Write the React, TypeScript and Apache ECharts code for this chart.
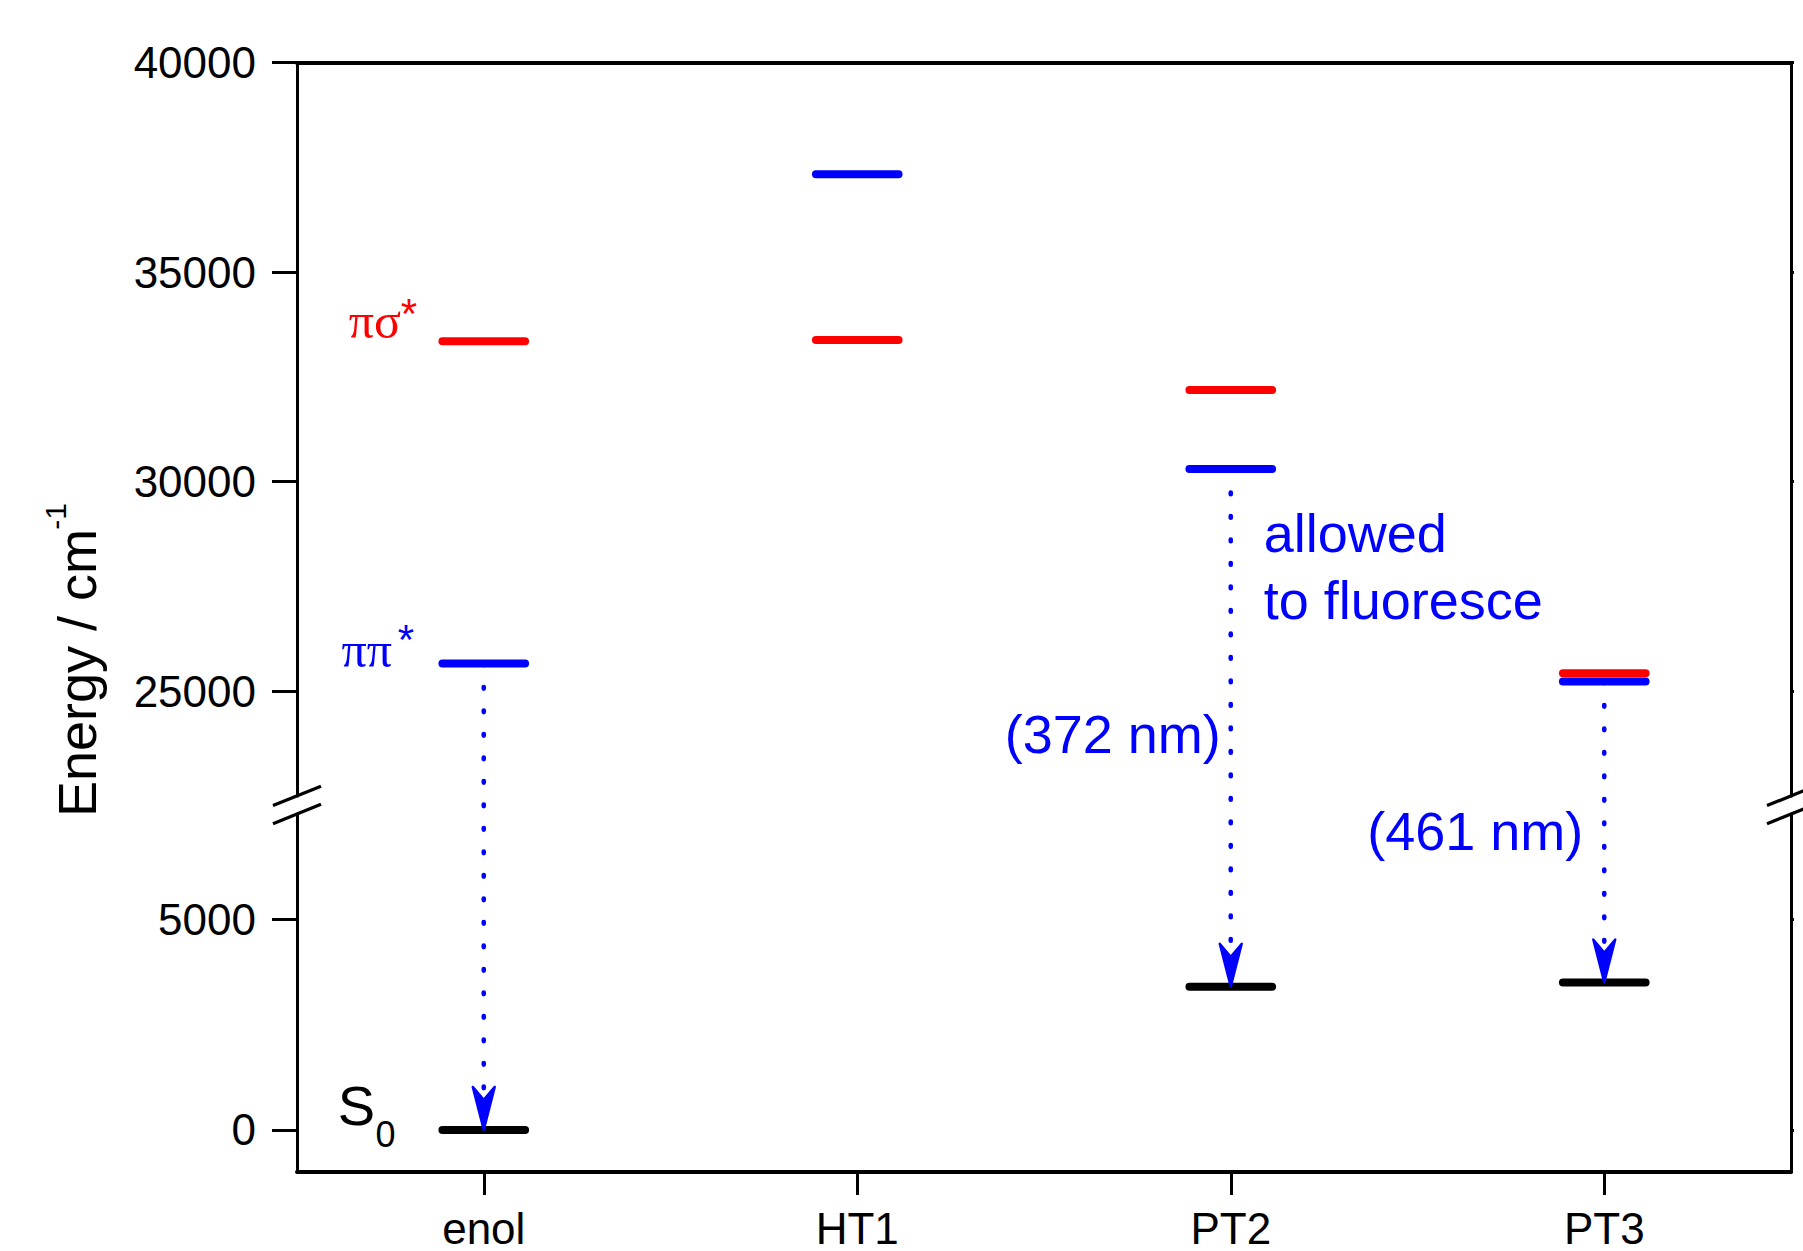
import React, { useEffect, useRef } from 'react';
import * as echarts from 'echarts';

// ---------- data ----------
const categories = ['enol', 'HT1', 'PT2', 'PT3'];
const piSigmaStar = [33350, 33380, 32190, 25430]; // red levels
const piPiStar = [25660, 37340, 30300, 25230]; // blue levels
const groundState: (number | null)[] = [0, null, 3400, 3500]; // black levels
const upperTicks = [25000, 30000, 35000, 40000];
const lowerTicks = [0, 5000];
const upperRange = [22500, 40000];
const lowerRange = [-1000, 7500];
const emissionFrom = [0, 2, 3]; // categories with a fluorescence arrow
const emissionLabels = ['', '(372 nm)', '(461 nm)'];

// ---------- layout ----------
const W = 1803;
const H = 1251;
const GL = 297;
const GR = 12;
const GT = 62.7;
const BRK_TOP = 795.9;
const BRK_BOT = 814;
const GB = 1172;
const SANS = '"Liberation Sans", Arial, Helvetica, sans-serif';
const SERIF = '"Liberation Serif", "Times New Roman", serif';
const RED = '#ff0000';
const BLUE = '#0000ff';
const BLACK = '#000000';
const HALF_FRAC = 0.1106;

const levelRenderer = (color: string) => (params: any, api: any) => {
  const c = api.coord([api.value(0), api.value(1)]);
  const bw = api.size([1, 0])[0];
  const half = bw * HALF_FRAC;
  return {
    type: 'line',
    shape: { x1: c[0] - half, y1: c[1], x2: c[0] + half, y2: c[1] },
    style: { stroke: color, lineWidth: 8, lineCap: 'round' },
  };
};

const numFmt = (v: number) => String(v);

function txt(x: number, y: number, text: string, font: string, fill: string, align: string, rotation = 0): any {
  return {
    type: 'text',
    x,
    y,
    rotation,
    silent: true,
    style: {
      text,
      font,
      fill,
      align,
      verticalAlign: 'middle',
      textAlign: align,
      textVerticalAlign: 'middle',
    },
  };
}

export default function App() {
  const ref = useRef<HTMLDivElement>(null);

  useEffect(() => {
    document.body.style.margin = '0';
    if (!ref.current) return;
    const chart = echarts.init(ref.current, undefined, { renderer: 'svg' });

    const yAxisCommon = (gridIndex: number, range: number[], interval: number, ticks: number[], left: boolean) => ({
      gridIndex,
      type: 'value',
      min: range[0],
      max: range[1],
      interval,
      position: left ? 'left' : 'right',
      axisLine: { show: true, onZero: false, lineStyle: { color: BLACK, width: 3 } },
      axisTick: {
        show: true,
        length: left ? 25 : 3,
        customValues: ticks,
        lineStyle: { color: BLACK, width: 3 },
      },
      axisLabel: left
        ? { show: true, customValues: ticks, formatter: numFmt, fontSize: 44, fontFamily: SANS, color: BLACK, margin: 41 }
        : { show: false },
      splitLine: { show: false },
    });

    const option: any = {
      animation: false,
      backgroundColor: '#ffffff',
      grid: [
        { left: GL, right: GR, top: GT, height: BRK_TOP - GT, containLabel: false },
        { left: GL, right: GR, top: BRK_BOT, height: GB - BRK_BOT, containLabel: false },
      ],
      xAxis: [
        {
          gridIndex: 0,
          type: 'category',
          data: categories,
          position: 'top',
          boundaryGap: true,
          axisLine: { onZero: false, lineStyle: { color: BLACK, width: 4 } },
          axisTick: { show: false },
          axisLabel: { show: false },
          splitLine: { show: false },
        },
        {
          gridIndex: 1,
          type: 'category',
          data: categories,
          position: 'bottom',
          boundaryGap: true,
          axisLine: { onZero: false, lineStyle: { color: BLACK, width: 4 } },
          axisTick: { show: true, alignWithLabel: true, length: 23, lineStyle: { color: BLACK, width: 3 } },
          axisLabel: { fontSize: 44, fontFamily: SANS, color: BLACK, margin: 34, lineHeight: 44 },
          splitLine: { show: false },
        },
      ],
      yAxis: [
        yAxisCommon(0, upperRange, 2500, upperTicks, true),
        yAxisCommon(0, upperRange, 2500, upperTicks, false),
        yAxisCommon(1, lowerRange, 500, lowerTicks, true),
        yAxisCommon(1, lowerRange, 500, lowerTicks, false),
      ],
      series: [
        {
          type: 'custom',
          name: 'πσ*',
          xAxisIndex: 0,
          yAxisIndex: 0,
          silent: true,
          clip: false,
          data: piSigmaStar.map((v, i) => [i, v]),
          renderItem: levelRenderer(RED),
        },
        {
          type: 'custom',
          name: 'ππ*',
          xAxisIndex: 0,
          yAxisIndex: 0,
          silent: true,
          clip: false,
          data: piPiStar.map((v, i) => [i, v]),
          renderItem: levelRenderer(BLUE),
        },
        {
          type: 'custom',
          name: 'S0',
          xAxisIndex: 1,
          yAxisIndex: 2,
          silent: true,
          clip: false,
          data: groundState.map((v, i) => (v == null ? null : [i, v])).filter((d) => d !== null),
          renderItem: levelRenderer(BLACK),
        },
      ],
    };

    chart.setOption(option);

    // pixel positions through the library's own scales
    const px = (i: number) => chart.convertToPixel({ xAxisIndex: 1 }, i) as unknown as number;
    const pyU = (v: number) => chart.convertToPixel({ yAxisIndex: 0 }, v) as unknown as number;
    const pyL = (v: number) => chart.convertToPixel({ yAxisIndex: 2 }, v) as unknown as number;

    const g: any[] = [];

    // axis break marks
    const yBreakTop = pyU(upperRange[0]);
    const yBreakBot = pyL(lowerRange[1]);
    const xLeft = GL;
    const xRight = W - GR;
    [xLeft, xRight].forEach((bx) => {
      [yBreakTop, yBreakBot].forEach((by) => {
        g.push({
          type: 'line',
          silent: true,
          shape: { x1: bx - 24, y1: by + 9.7, x2: bx + 24, y2: by - 9.7 },
          style: { stroke: BLACK, lineWidth: 3.2 },
        });
      });
    });

    // fluorescence arrows
    emissionFrom.forEach((ci, k) => {
      const x = px(ci);
      const yTop = pyU(piPiStar[ci]);
      const tip = pyL(groundState[ci] as number);
      g.push({
        type: 'line',
        silent: true,
        z: 10,
        shape: { x1: x, y1: yTop, x2: x, y2: tip - 30 },
        style: { stroke: BLUE, lineWidth: 4.6, lineDash: [1.6, 21.9], lineCap: 'round' },
      });
      g.push({
        type: 'polygon',
        silent: true,
        z: 10,
        shape: {
          points: [
            [x, tip],
            [x - 11, tip - 43],
            [x, tip - 30],
            [x + 11, tip - 43],
          ],
        },
        style: { fill: BLUE, stroke: BLUE, lineWidth: 2.4, lineJoin: 'round' },
      });
      const label = emissionLabels[k];
      if (label) {
        const off = ci === 2 ? 264.6 : 149.6;
        const dx = ci === 2 ? -10 : -21;
        g.push(txt(x + dx, yTop + off, label, `54px ${SANS}`, BLUE, 'right'));
      }
      if (ci === 2) {
        g.push(txt(x + 33, yTop + 64, 'allowed', `54px ${SANS}`, BLUE, 'left'));
        g.push(txt(x + 33, yTop + 130.6, 'to fluoresce', `54px ${SANS}`, BLUE, 'left'));
      }
    });

    // state labels next to the enol levels
    const ex = px(0);
    const ySig = pyU(piSigmaStar[0]);
    const yPi = pyU(piPiStar[0]);
    const yS0 = pyL(groundState[0] as number);
    g.push(txt(ex - 82.75, ySig - 20.6, 'πσ', `50px ${SERIF}`, RED, 'right'));
    g.push(txt(ex - 83, ySig - 27.5, '*', `42px ${SANS}`, RED, 'left'));
    g.push(txt(ex - 91.75, yPi - 13.5, 'ππ', `50px ${SERIF}`, BLUE, 'right'));
    g.push(txt(ex - 86, yPi - 24.5, '*', `42px ${SANS}`, BLUE, 'left'));
    g.push(txt(ex - 145.9, yS0 - 24.4, 'S', `56px ${SANS}`, BLACK, 'left'));
    g.push(txt(ex - 108.3, yS0 + 4.5, '0', `36px ${SANS}`, BLACK, 'left'));

    // y axis title
    g.push(txt(77, 673, 'Energy / cm', `54px ${SANS}`, BLACK, 'center', Math.PI / 2));
    g.push(txt(55, 516.5, '-1', `30px ${SANS}`, BLACK, 'center', Math.PI / 2));

    chart.setOption({ graphic: { elements: g } });

    return () => {
      chart.dispose();
    };
  }, []);

  return <div ref={ref} style={{ width: W, height: H, background: '#fff' }} />;
}
